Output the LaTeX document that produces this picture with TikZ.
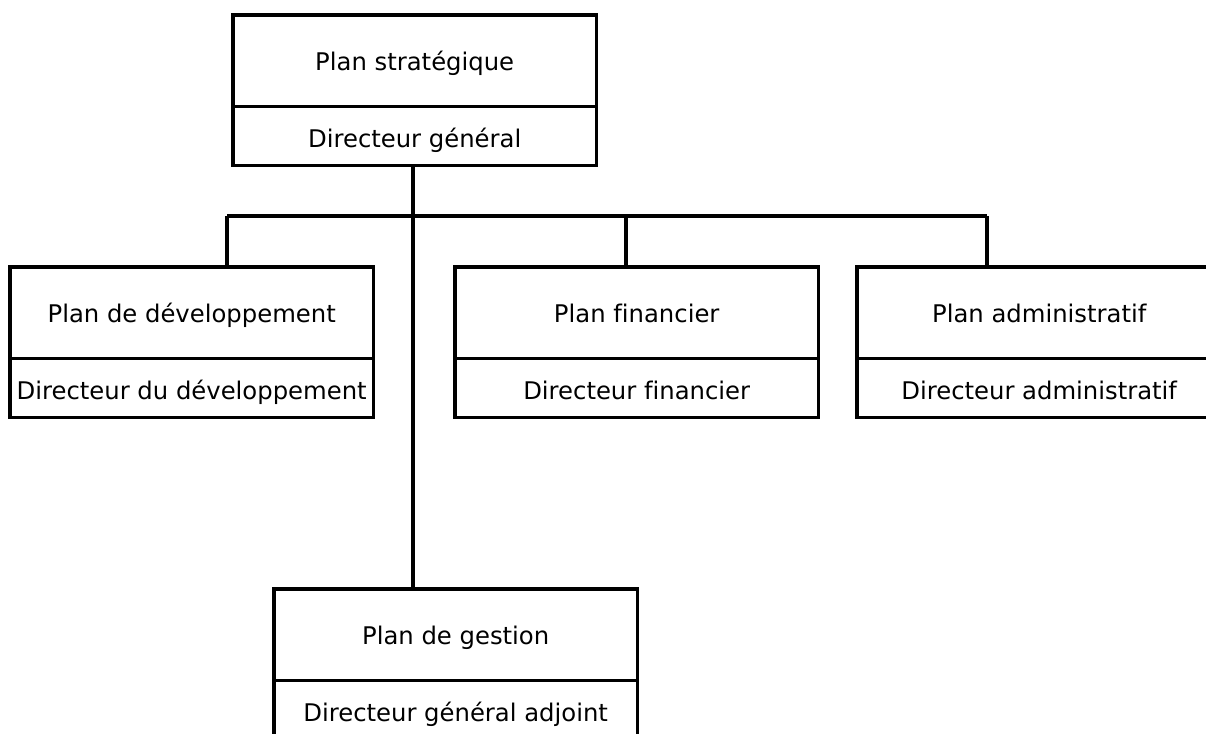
\documentclass[tikz,border=0pt]{standalone}
\usepackage{fontspec}
\setmainfont{DejaVu Sans}[Ligatures={NoCommon}]
\begin{document}
\begin{tikzpicture}[x=1pt,y=1pt,
  every node/.style={font=\fontsize{24.3}{29}\selectfont},
  plancell/.style={rectangle, inner sep=0pt,
    minimum width=363pt, minimum height=91pt, text height=19pt, text depth=0pt,
    anchor=north west},
  dircell/.style={rectangle, inner sep=0pt,
    minimum width=363pt, minimum height=59pt, text height=23pt, text depth=0pt,
    anchor=north west},
  frame/.style={line width=3.2pt},
  divider/.style={line width=2.4pt},
  conn/.style={line width=3.2pt}]
\useasboundingbox (0,0) rectangle (1206,-733);

% top level
\node[plancell] (strP) at (233,-15) {Plan stratégique};
\node[dircell]  (strD) at (strP.south west) {Directeur général};

% second level
\node[plancell] (devP) at (10,-267) {Plan de développement};
\node[dircell]  (devD) at (devP.south west) {Directeur du développement};
\node[plancell] (finP) at (455,-267) {Plan financier};
\node[dircell]  (finD) at (finP.south west) {Directeur financier};
\node[plancell, minimum width=364pt] (admP) at (857,-267) {Plan administratif};
\node[dircell, minimum width=364pt]  (admD) at (admP.south west) {Directeur administratif};

% management plan
\node[plancell] (gesP) at (274,-589) {Plan de gestion};
\node[dircell]  (gesD) at (gesP.south west) {Directeur général adjoint};

% box outlines and the line between plan and director
\foreach \b in {str,dev,fin,adm,ges}{
  \draw[frame] (\b P.north west) rectangle (\b D.south east);
  \draw[divider] (\b P.south west) -- (\b P.south east);
}

% connectors
\coordinate (trunk) at (413,-216);
\coordinate (jL) at (227,-216);
\coordinate (jM) at (626,-216);
\coordinate (jR) at (987,-216);
\draw[conn] (strD.south -| trunk) -- (gesP.north -| trunk);
\draw[conn] (jL) -- (jR);
\draw[conn] (jL) -- (jL |- devP.north);
\draw[conn] (jM) -- (jM |- finP.north);
\draw[conn] (jR) -- (jR |- admP.north);
\end{tikzpicture}
\end{document}
